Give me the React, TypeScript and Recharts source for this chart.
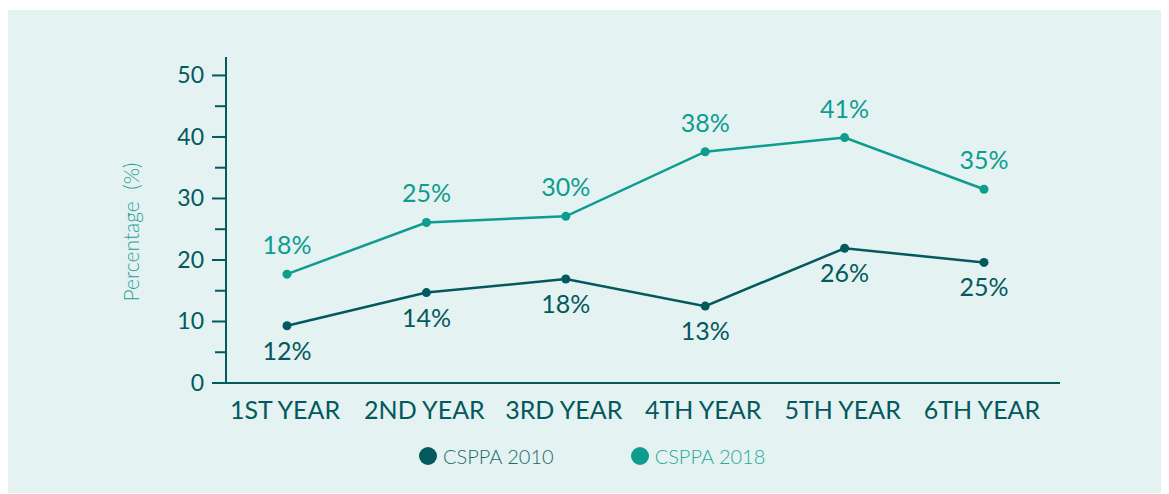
import { LineChart, Line, XAxis, YAxis, Legend } from 'recharts'

const years = ['1ST YEAR', '2ND YEAR', '3RD YEAR', '4TH YEAR', '5TH YEAR', '6TH YEAR']
const csppa2010 = [9.3, 14.7, 16.9, 12.5, 21.9, 19.6]
const csppa2018 = [17.7, 26.1, 27.1, 37.6, 39.9, 31.5]
const labels2010 = ['12%', '14%', '18%', '13%', '26%', '25%']
const labels2018 = ['18%', '25%', '30%', '38%', '41%', '35%']
const yTicks = [0, 5, 10, 15, 20, 25, 30, 35, 40, 45, 50]

const DARK = '#03595d'
const LIGHT = '#0e9c8f'
const BG = '#e4f2f2'
const FONT = 'Lato, "Noto Sans", sans-serif'

const data = years.map((year, i) => ({
  year,
  a: csppa2010[i],
  b: csppa2018[i],
}))

function YTick(props: any) {
  const { x, y, payload } = props
  const major = payload.value % 10 === 0
  return (
    <g>
      <line x1={x - (major ? 14 : 11)} x2={x} y1={y} y2={y} stroke={DARK} strokeWidth={2} />
      {major && (
        <text x={x - 22} y={y + 8} textAnchor="end" fontSize={23} fill={DARK} fontFamily={FONT}>
          {payload.value}
        </text>
      )}
    </g>
  )
}

function XTick(props: any) {
  const { x, y, payload } = props
  return (
    <text x={x - 2} y={y + 36} textAnchor="middle" fontSize={25} fill={DARK} fontFamily={FONT}>
      {payload.value}
    </text>
  )
}

const makeLabel = (texts: string[], color: string, above: boolean) => (props: any) => {
  const { x, y, index } = props
  return (
    <text
      x={x}
      y={above ? y - 20 : y + 34}
      textAnchor="middle"
      fontSize={25}
      fill={color}
      fontFamily={FONT}
    >
      {texts[index]}
    </text>
  )
}

function LegendContent() {
  const item = (color: string, text: string, textColor: string, ml: number) => (
    <div style={{ display: 'flex', alignItems: 'center', marginLeft: ml }}>
      <span style={{ width: 18, height: 18, borderRadius: 9, background: color, display: 'inline-block' }} />
      <span style={{ marginLeft: 6, fontSize: 20, fontWeight: 300, color: textColor, fontFamily: FONT }}>{text}</span>
    </div>
  )
  return (
    <div style={{ display: 'flex', paddingLeft: 411, height: 20, lineHeight: '20px' }}>
      {item(DARK, 'CSPPA 2010', '#1b6a6d', 0)}
      {item(LIGHT, 'CSPPA 2018', '#2aa99c', 77)}
    </div>
  )
}

export default function App() {
  return (
    <div style={{ marginTop: 2, width: 1161, height: 483, background: BG }}>
      <LineChart
        width={1161}
        height={483}
        data={data}
        margin={{ top: 47, right: 109, left: 0, bottom: 0 }}
      >
        <XAxis
          dataKey="year"
          padding={{ left: 61, right: 76 }}
          axisLine={{ stroke: DARK, strokeWidth: 2 }}
          tickLine={false}
          tickSize={0}
          tickMargin={0}
          tick={<XTick />}
          interval={0}
          height={110}
        />
        <YAxis
          width={218}
          domain={[0, 53]}
          ticks={yTicks}
          interval={0}
          axisLine={{ stroke: DARK, strokeWidth: 2 }}
          tickLine={false}
          tickSize={0}
          tickMargin={0}
          tick={<YTick />}
          label={{
            content: () => (
              <text
                x={122}
                y={222}
                transform="rotate(-90 122 222)"
                textAnchor="middle"
                dominantBaseline="central"
                fontSize={21}
                fontWeight={300}
                fill="#2a9d96"
                fontFamily={FONT}
                style={{ whiteSpace: 'pre' }}
              >
                {'Percentage  (%)'}
              </text>
            ),
          }}
        />
        <Legend
          verticalAlign="middle"
          layout="horizontal"
          align="center"
          wrapperStyle={{ top: 436, left: 0, width: 1161 }}
          content={<LegendContent />}
        />
        <Line
          type="linear"
          dataKey="a"
          name="CSPPA 2010"
          stroke={DARK}
          strokeWidth={2.5}
          dot={{ r: 4.5, fill: DARK, stroke: DARK, strokeWidth: 0 }}
          activeDot={false}
          isAnimationActive={false}
          label={makeLabel(labels2010, DARK, false)}
        />
        <Line
          type="linear"
          dataKey="b"
          name="CSPPA 2018"
          stroke={LIGHT}
          strokeWidth={2.5}
          dot={{ r: 4.5, fill: LIGHT, stroke: LIGHT, strokeWidth: 0 }}
          activeDot={false}
          isAnimationActive={false}
          label={makeLabel(labels2018, LIGHT, true)}
        />
      </LineChart>
    </div>
  )
}
